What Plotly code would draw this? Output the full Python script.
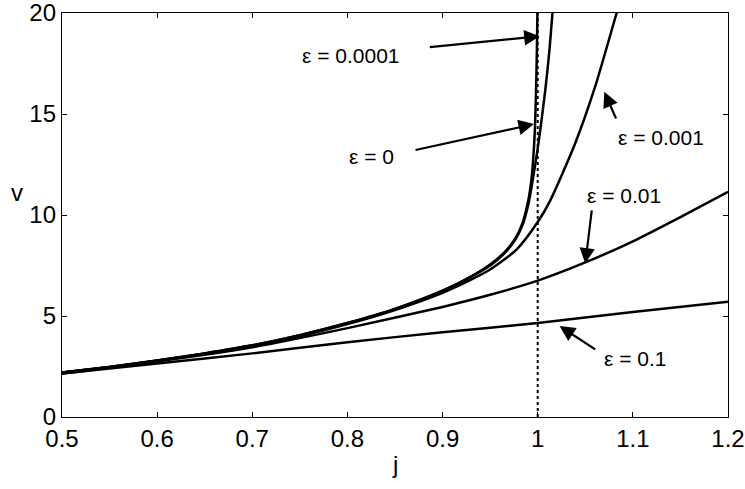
import plotly.graph_objects as go

# Data (j, v)
j_eps0 = [0.5, 0.55, 0.6, 0.65, 0.7, 0.75, 0.8, 0.85, 0.9, 0.93, 0.95, 0.965, 0.976, 0.984,
          0.99, 0.993, 0.995, 0.997, 0.998, 0.999, 1.0]
v_eps0 = [2.2, 2.48, 2.8, 3.15, 3.55, 4.05, 4.65, 5.35, 6.25, 6.95, 7.55, 8.15, 8.8, 9.6,
          10.7, 11.6, 12.6, 14.2, 15.7, 17.8, 21.0]

j_eps00001 = [0.5, 0.55, 0.6, 0.65, 0.7, 0.75, 0.8, 0.85, 0.9, 0.93, 0.95, 0.965, 0.976, 0.984,
              0.99, 0.995, 1.0, 1.004, 1.008, 1.012, 1.016]
v_eps00001 = [2.2, 2.48, 2.8, 3.15, 3.55, 4.05, 4.65, 5.35, 6.25, 6.95, 7.5, 8.1, 8.75, 9.5,
              10.5, 11.8, 13.3, 14.7, 16.2, 18.0, 20.3]

j_eps0001 = [0.5, 0.55, 0.6, 0.65, 0.7, 0.75, 0.8, 0.85, 0.9, 0.93, 0.95, 0.978, 1.0, 1.013,
             1.039, 1.06, 1.083, 1.087]
v_eps0001 = [2.2, 2.47, 2.78, 3.13, 3.52, 4.0, 4.6, 5.3, 6.15, 6.8, 7.3, 8.3, 9.65, 10.7,
             13.5, 16.3, 20.0, 20.6]

j_eps001 = [0.5, 0.6, 0.7, 0.8, 0.9, 0.95, 1.0, 1.05, 1.1, 1.15, 1.2]
v_eps001 = [2.15, 2.75, 3.45, 4.4, 5.45, 6.05, 6.75, 7.65, 8.7, 9.9, 11.15]

j_eps01 = [0.5, 0.6, 0.7, 0.8, 0.9, 1.0, 1.1, 1.2]
v_eps01 = [2.15, 2.65, 3.15, 3.7, 4.2, 4.65, 5.2, 5.7]

x_ticks = [0.5, 0.6, 0.7, 0.8, 0.9, 1.0, 1.1, 1.2]
x_tick_labels = ["0.5", "0.6", "0.7", "0.8", "0.9", "1", "1.1", "1.2"]
y_ticks = [0, 5, 10, 15, 20]
y_tick_labels = ["0", "5", "10", "15", "20"]

# annotation: label, tip (j, v), tail (j, v)
ann_labels = ["ε = 0.0001", "ε = 0", "ε = 0.001", "ε = 0.01", "ε = 0.1"]
ann_tip_j = [1.002, 0.996, 1.070, 1.050, 1.023]
ann_tip_v = [18.85, 14.5, 16.1, 7.6, 4.5]
ann_tail_j = [0.885, 0.870, 1.083, 1.057, 1.062]
ann_tail_v = [18.3, 13.2, 14.7, 10.3, 3.3]
ann_text_j = [0.804, 0.825, 1.130, 1.091, 1.103]
ann_text_v = [17.9, 12.9, 13.85, 10.95, 2.9]

FONT = "Liberation Sans, Arial, Helvetica, sans-serif"

fig = go.Figure()

# dotted asymptote at j = 1
fig.add_trace(go.Scatter(x=[1.0, 1.0], y=[0, 20], mode="lines",
                         line=dict(color="black", width=2, dash="dot"),
                         hoverinfo="skip", showlegend=False))

for xs, ys in [(j_eps0, v_eps0), (j_eps00001, v_eps00001), (j_eps0001, v_eps0001),
               (j_eps001, v_eps001), (j_eps01, v_eps01)]:
    fig.add_trace(go.Scatter(x=xs, y=ys, mode="lines",
                             line=dict(color="black", width=2.5, shape="spline", smoothing=0.7),
                             showlegend=False, cliponaxis=True))

for lab, tj, tv, aj, av, xj, xv in zip(ann_labels, ann_tip_j, ann_tip_v, ann_tail_j,
                                        ann_tail_v, ann_text_j, ann_text_v):
    fig.add_annotation(x=tj, y=tv, ax=aj, ay=av, axref="x", ayref="y", xref="x", yref="y",
                       text="", showarrow=True, arrowhead=2, arrowsize=1.4, arrowwidth=2.2,
                       arrowcolor="black")
    fig.add_annotation(x=xj, y=xv, xref="x", yref="y", text=lab, showarrow=False,
                       font=dict(family=FONT, size=21, color="black"))

# axis labels
fig.add_annotation(x=-0.08, y=0.555, xref="paper", yref="paper", text="v", showarrow=False,
                   font=dict(family=FONT, size=24, color="black"))
fig.add_annotation(x=0.5, y=-0.118, xref="paper", yref="paper", text="j", showarrow=False,
                   yanchor="middle", font=dict(family=FONT, size=24, color="black"))

axis_common = dict(showgrid=False, zeroline=False, showline=True, linecolor="black",
                   linewidth=1.3, mirror="ticks", ticks="inside", ticklen=5,
                   tickcolor="black", tickwidth=1.2, automargin=False,
                   tickfont=dict(family=FONT, size=24, color="black"))

fig.update_xaxes(range=[0.5, 1.2], tickvals=x_ticks, ticktext=x_tick_labels, **axis_common)
fig.update_yaxes(range=[-0.0001, 20.0001], tickvals=y_ticks, ticktext=y_tick_labels,
                 ticklabeloverflow="allow", **axis_common)

fig.update_layout(width=745, height=489, margin=dict(l=62, r=17, t=13, b=72),
                  plot_bgcolor="white", paper_bgcolor="white", showlegend=False)

fig.write_html("out.html")
